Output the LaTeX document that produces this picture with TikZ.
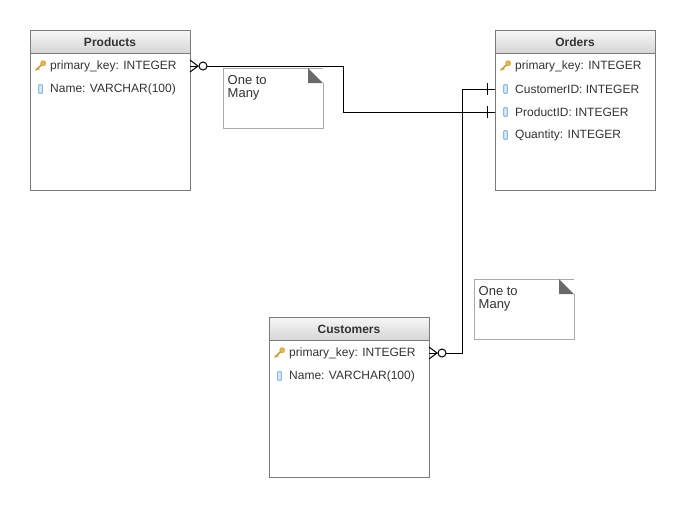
\documentclass[tikz,border=0pt]{standalone}
\usepackage{fontspec}
\setmainfont{Liberation Sans}
\definecolor{bordergray}{HTML}{7A7A7A}
\definecolor{txt}{HTML}{333333}
\definecolor{hdtop}{HTML}{F7F7F7}
\definecolor{hdbot}{HTML}{D6D6D6}
\definecolor{notegray}{HTML}{AAAAAA}
\definecolor{folddark}{HTML}{6A6A6A}
\definecolor{keygold}{HTML}{E8B64A}
\definecolor{colblue}{HTML}{5B9BD5}
\definecolor{colfill}{HTML}{DCEBFA}
\begin{document}
\begin{tikzpicture}[x=1pt,y=-1pt,
  rowtxt/.style={anchor=west,inner sep=0pt,font=\fontsize{12}{14}\selectfont,text=txt},
  hdtxt/.style={inner sep=0pt,font=\fontsize{12}{14}\selectfont\bfseries,text=txt},
  notetxt/.style={anchor=north west,inner sep=0pt,align=left,font=\fontsize{13}{13.5}\selectfont,text=txt},
  rel/.style={draw=black,line width=1pt}]
\useasboundingbox (0,0) rectangle (685,507);
\fill[white] (0,0) rectangle (685,507);

% Products
\shade[top color=hdtop,bottom color=hdbot] (30,30) rectangle (190,53);
\draw[bordergray,line width=0.8pt] (30,30) rectangle (190,190);
\draw[bordergray,line width=0.8pt] (30,53) -- (190,53);
\node[hdtxt] (prodh) at (110,42) {Products};
% Orders
\shade[top color=hdtop,bottom color=hdbot] (495,30) rectangle (655,53);
\draw[bordergray,line width=0.8pt] (495,30) rectangle (655,190);
\draw[bordergray,line width=0.8pt] (495,53) -- (655,53);
\node[hdtxt] (ordh) at (575,42) {Orders};
% Customers
\shade[top color=hdtop,bottom color=hdbot] (269,317) rectangle (429,340);
\draw[bordergray,line width=0.8pt] (269,317) rectangle (429,477);
\draw[bordergray,line width=0.8pt] (269,340) -- (429,340);
\node[hdtxt] (custh) at (349,329) {Customers};

% icons
\tikzset{
  keyicon/.pic={
    \draw[keygold!85!black,fill=keygold,line width=0.4pt] (3.2,-2.8) circle (2.6);
    \draw[keygold!85!black,line width=1.6pt,line cap=round] (1.4,-1.0) -- (-4,4);
    \draw[keygold!85!black,line width=1.2pt] (-2.2,2.2) -- (-0.8,3.6);
  },
  colicon/.pic={
    \draw[colblue,fill=colfill,line width=0.8pt,rounded corners=0.6pt] (-1.8,-4.3) rectangle (1.8,4.3);
  }
}

% Products rows
\pic at (40,66) {keyicon};
\node[rowtxt] (p1) at (50,66.5) {primary\_key: INTEGER};
\pic at (40.5,89) {colicon};
\node[rowtxt] (p2) at (50,89.5) {Name: VARCHAR(100)};
% Orders rows
\pic at (505,66) {keyicon};
\node[rowtxt] (o1) at (515,66.5) {primary\_key: INTEGER};
\pic at (505.5,89) {colicon};
\node[rowtxt] (o2) at (515,89.5) {CustomerID: INTEGER};
\pic at (505.5,112) {colicon};
\node[rowtxt] (o3) at (515,112.5) {ProductID: INTEGER};
\pic at (505.5,135) {colicon};
\node[rowtxt] (o4) at (515,135.5) {Quantity: INTEGER};
% Customers rows
\pic at (279,353) {keyicon};
\node[rowtxt] (c1) at (289,353.5) {primary\_key: INTEGER};
\pic at (279.5,376) {colicon};
\node[rowtxt] (c2) at (289,376.5) {Name: VARCHAR(100)};

% anchor coordinates
\coordinate (pk) at (190,66);
\coordinate (ock) at (495,89);
\coordinate (opk) at (495,112);
\coordinate (ck) at (429,353);

% Products -> Orders.ProductID
\draw[rel] (pk) ++(17,0) -- (343,66) -- (343,112) -- (opk);
\draw[rel] (190,60) -- (198,66) -- (190,72);
\draw[rel] (pk) -- (198,66);
\draw[rel,fill=white] (203,66) circle (4);
\draw[rel] (487.5,106) -- (487.5,118);
% Customers -> Orders.CustomerID
\draw[rel] (ck) ++(17,0) -- (462,353) -- (462,89) -- (ock);
\draw[rel] (429,347) -- (437,353) -- (429,359);
\draw[rel] (ck) -- (437,353);
\draw[rel,fill=white] (442,353) circle (4);
\draw[rel] (487.5,83) -- (487.5,95);

% notes
\fill[white] (223,68) rectangle (323,128);
\draw[notegray,line width=0.8pt] (323,83) -- (323,128) -- (223,128) -- (223,68) -- (323,68);
\fill[folddark] (308,68) -- (323,83) -- (308,83) -- cycle;
\node[notetxt] (n1) at (227.5,75) {One to\\Many};

\fill[white] (474,279) rectangle (574,339);
\draw[notegray,line width=0.8pt] (574,294) -- (574,339) -- (474,339) -- (474,279) -- (574,279);
\fill[folddark] (559,279) -- (574,294) -- (559,294) -- cycle;
\node[notetxt] (n2) at (478.5,286) {One to\\Many};
\end{tikzpicture}
\end{document}
